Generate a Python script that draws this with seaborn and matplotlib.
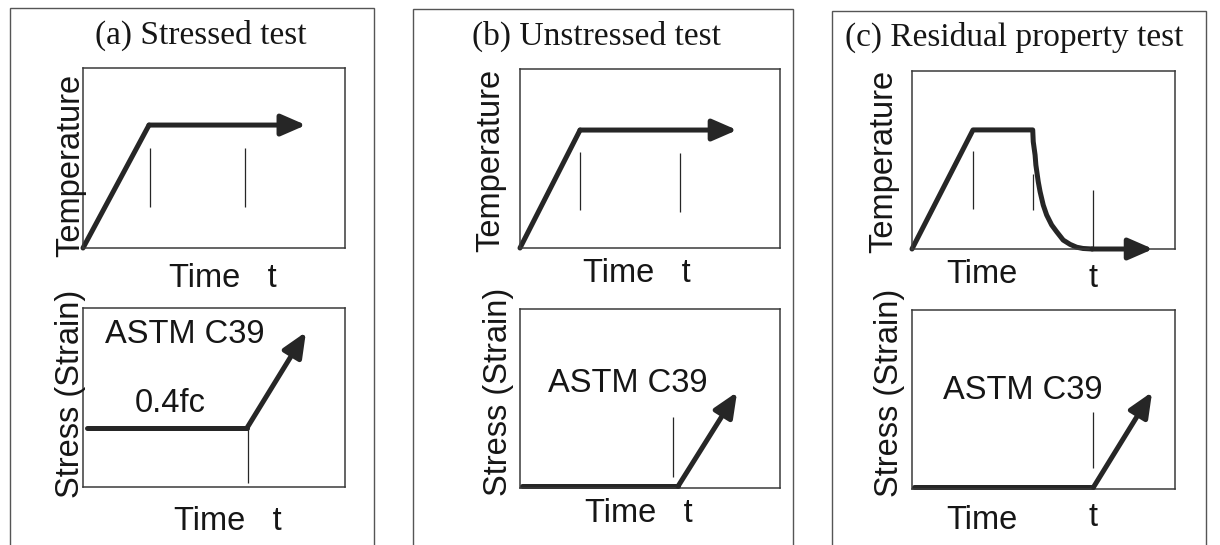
import matplotlib
matplotlib.use("Agg")
import matplotlib.pyplot as plt
import numpy as np
import pandas as pd
import seaborn as sns
from matplotlib.patches import Rectangle

# ---------------- data (normalised schematic units, 0..1) ----------------
panel_titles = ["(a) Stressed test", "(b) Unstressed test", "(c) Residual property test"]
temp_label = "Temperature"
stress_label = "Stress (Strain)"
time_label = "Time"
t_label = "t"
astm_label = "ASTM C39"
preload_label = "0.4fc"

# (a) stressed test
a_temp_x = [0.0, 0.252, 0.851]
a_temp_y = [0.0, 0.683, 0.683]
a_temp_mark_x = [0.255, 0.618]
a_temp_mark_y0 = [0.228, 0.228]
a_temp_mark_y1 = [0.556, 0.556]
a_stress_x = [0.016, 0.626, 0.851]
a_stress_y = [0.33, 0.33, 0.866]
a_stress_mark_x = [0.63]
a_stress_mark_y0 = [0.02]
a_stress_mark_y1 = [0.33]

# (b) unstressed test
b_temp_x = [0.0, 0.231, 0.835]
b_temp_y = [0.0, 0.659, 0.659]
b_temp_mark_x = [0.231, 0.615]
b_temp_mark_y0 = [0.21, 0.20]
b_temp_mark_y1 = [0.536, 0.53]
b_stress_x = [0.008, 0.608, 0.835]
b_stress_y = [0.01, 0.01, 0.536]
b_stress_mark_x = [0.588]
b_stress_mark_y0 = [0.06]
b_stress_mark_y1 = [0.397]

# (c) residual property test (heating, hold, natural cooling, then residual test)
c_temp_x = [0.0, 0.232, 0.459, 0.461, 0.468, 0.471, 0.480, 0.487, 0.499, 0.512,
            0.531, 0.550, 0.575, 0.601, 0.626, 0.650, 0.685, 0.917]
c_temp_y = [0.0, 0.669, 0.669, 0.603, 0.528, 0.472, 0.378, 0.322, 0.247, 0.191,
            0.135, 0.097, 0.050, 0.026, 0.010, 0.003, 0.0, 0.0]
c_temp_mark_x = [0.232, 0.461, 0.69]
c_temp_mark_y0 = [0.225, 0.22, 0.0]
c_temp_mark_y1 = [0.55, 0.42, 0.33]
c_stress_x = [0.008, 0.69, 0.913]
c_stress_y = [0.01, 0.01, 0.542]
c_stress_mark_x = [0.69]
c_stress_mark_y0 = [0.117]
c_stress_mark_y1 = [0.43]

# ---------------- style ----------------
sns.set_style("white")
plt.rcParams["font.family"] = ["Liberation Sans", "DejaVu Sans"]
INK = "#262626"
TXT = "#161616"
SPINE = "#3a3a3a"
LW = 3.6
SANS_FS = 23.5
SERIF_FS = 24

W, H = 1220, 545
fig = plt.figure(figsize=(W / 100, H / 100), dpi=100)
fig.patch.set_facecolor("white")


def px_axes(left, top, right, bottom):
    return fig.add_axes([left / W, 1 - bottom / H, (right - left) / W, (bottom - top) / H])


def style_axes(ax):
    ax.set_xlim(0, 1)
    ax.set_ylim(0, 1)
    ax.set_xticks([])
    ax.set_yticks([])
    for s in ax.spines.values():
        s.set_visible(True)
        s.set_linewidth(1.1)
        s.set_color(SPINE)
    ax.set_facecolor("white")


def draw_path(ax, xs, ys):
    df = pd.DataFrame({"time": xs, "value": ys})
    body = df.iloc[:-1]
    sns.lineplot(data=body, x="time", y="value", sort=False, estimator=None, ax=ax,
                 color=INK, linewidth=LW, solid_capstyle="round",
                 solid_joinstyle="round", clip_on=False, legend=False)
    ax.annotate("", xy=(xs[-1], ys[-1]), xytext=(xs[-2], ys[-2]),
                arrowprops=dict(arrowstyle="-|>,head_length=0.62,head_width=0.27",
                                color=INK, lw=LW, mutation_scale=24,
                                shrinkA=0, shrinkB=0),
                annotation_clip=False)
    ax.set_xlim(0, 1)
    ax.set_ylim(0, 1)
    ax.set_xlabel("")
    ax.set_ylabel("")


def draw_marks(ax, xs, y0, y1):
    ax.vlines(xs, y0, y1, color=INK, linewidth=0.9)


def ylab(ax, text, x, y):
    ax.text(x, y, text, transform=ax.transAxes, rotation=90, rotation_mode="anchor",
            ha="center", va="baseline", fontsize=SANS_FS, color=TXT)


def xlab(ax, text, x, y):
    ax.text(x, y, text, transform=ax.transAxes, ha="center", va="baseline",
            fontsize=SANS_FS, color=TXT)


# panel frames
for (l, r, t) in [(10, 374, 8), (413, 793, 9), (832, 1206, 11)]:
    fig.add_artist(Rectangle((l / W, -0.05), (r - l) / W, 1 - t / H + 0.05,
                             transform=fig.transFigure, fill=False,
                             linewidth=1.0, edgecolor="#555555"))

# titles
for title, (cx, by) in zip(panel_titles, [(201, 44), (596, 45), (1014, 46)]):
    fig.text(cx / W, 1 - by / H, title, ha="center", va="baseline",
             fontsize=SERIF_FS, family=["Liberation Serif", "DejaVu Serif"], color=TXT)

# ---------- (a) ----------
ax = px_axes(83, 68, 345, 248)
style_axes(ax)
draw_marks(ax, a_temp_mark_x, a_temp_mark_y0, a_temp_mark_y1)
draw_path(ax, a_temp_x, a_temp_y)
ylab(ax, temp_label, -0.015, 0.46)
xlab(ax, time_label + "   " + t_label, 0.534, -0.217)

ax = px_axes(83, 308, 345, 487)
style_axes(ax)
draw_marks(ax, a_stress_mark_x, a_stress_mark_y0, a_stress_mark_y1)
draw_path(ax, a_stress_x, a_stress_y)
ylab(ax, stress_label, -0.015, 0.52)
xlab(ax, time_label + "   " + t_label, 0.553, -0.24)
ax.text(0.39, 0.804, astm_label, ha="center", va="baseline", fontsize=SANS_FS, color=TXT)
ax.text(0.332, 0.42, preload_label, ha="center", va="baseline", fontsize=SANS_FS, color=TXT)

# ---------- (b) ----------
ax = px_axes(520, 69, 780, 248)
style_axes(ax)
draw_marks(ax, b_temp_mark_x, b_temp_mark_y0, b_temp_mark_y1)
draw_path(ax, b_temp_x, b_temp_y)
ylab(ax, temp_label, -0.08, 0.49)
xlab(ax, time_label + "   " + t_label, 0.45, -0.19)

ax = px_axes(520, 309, 780, 488)
style_axes(ax)
draw_marks(ax, b_stress_mark_x, b_stress_mark_y0, b_stress_mark_y1)
draw_path(ax, b_stress_x, b_stress_y)
ylab(ax, stress_label, -0.05, 0.536)
xlab(ax, time_label + "   " + t_label, 0.458, -0.19)
ax.text(0.415, 0.536, astm_label, ha="center", va="baseline", fontsize=SANS_FS, color=TXT)

# ---------- (c) ----------
ax = px_axes(912, 71, 1175, 249)
style_axes(ax)
draw_marks(ax, c_temp_mark_x, c_temp_mark_y0, c_temp_mark_y1)
draw_path(ax, c_temp_x, c_temp_y)
ylab(ax, temp_label, -0.076, 0.49)
xlab(ax, time_label, 0.266, -0.19)
xlab(ax, t_label, c_temp_mark_x[-1], -0.214)

ax = px_axes(912, 310, 1175, 489)
style_axes(ax)
draw_marks(ax, c_stress_mark_x, c_stress_mark_y0, c_stress_mark_y1)
draw_path(ax, c_stress_x, c_stress_y)
ylab(ax, stress_label, -0.053, 0.536)
xlab(ax, time_label, 0.266, -0.225)
xlab(ax, t_label, c_stress_mark_x[0], -0.207)
ax.text(0.422, 0.503, astm_label, ha="center", va="baseline", fontsize=SANS_FS, color=TXT)

fig.savefig("out.png", dpi=100, facecolor="white")
